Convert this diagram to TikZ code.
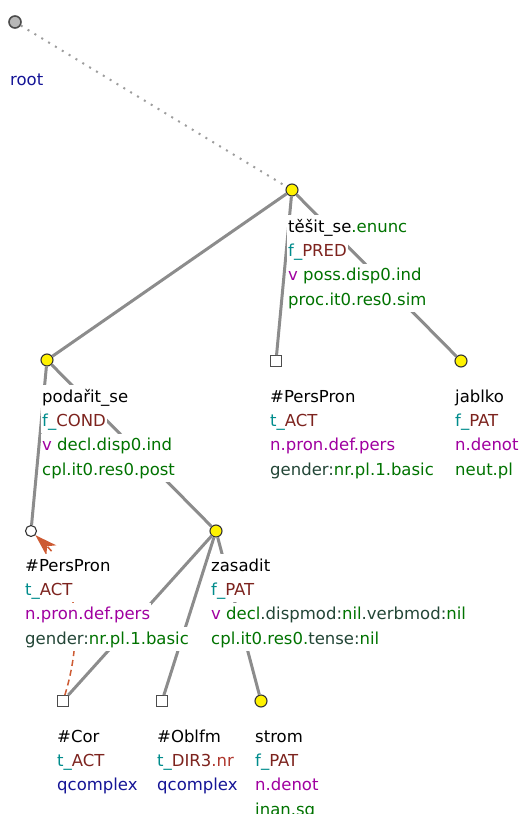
\documentclass[tikz,border=0pt]{standalone}
\usepackage{fontspec}
\setmainfont{DejaVu Sans}
\usetikzlibrary{arrows.meta,positioning}
\definecolor{treegray}{RGB}{140,140,140}
\definecolor{treeteal}{RGB}{0,140,140}
\definecolor{treebrown}{RGB}{125,35,30}
\definecolor{treered}{RGB}{175,55,45}
\definecolor{treegreen}{RGB}{0,115,0}
\definecolor{treedark}{RGB}{35,70,55}
\definecolor{treepurple}{RGB}{160,0,160}
\definecolor{treenavy}{RGB}{20,20,150}
\definecolor{treecoref}{RGB}{205,90,50}

\begin{document}
\begin{tikzpicture}[x=1pt,y=-1pt,>=Stealth,font=\fontsize{16.5}{24}\selectfont,
  edge/.style={line width=3pt,treegray},
  lbl/.style={fill=white,inner xsep=1pt,inner ysep=0pt,text height=17pt,text depth=7pt,anchor=north west},
  yel/.style={circle,draw=black!80,fill=yellow,line width=1.1pt,inner sep=0pt,minimum size=12pt},
  hole/.style={circle,draw=black!80,fill=white,line width=1.1pt,inner sep=0pt,minimum size=11pt},
  sq/.style={rectangle,draw=black!70,fill=white,line width=1.4pt,inner sep=0pt,minimum size=10.5pt}]
\useasboundingbox (0,0) rectangle (522,814);
% tree nodes
\node[circle,draw=black!70,fill=black!28,line width=1.6pt,inner sep=0pt,minimum size=12pt] (root) at (15,22) {};
\node[yel] (tesit) at (292,190) {};
\node[yel] (podarit) at (47,360) {};
\node[sq] (pp1) at (276,361) {};
\node[yel] (jablko) at (461,361) {};
\node[hole] (pp2) at (31,531) {};
\node[yel] (zasadit) at (216,531) {};
\node[sq] (cor) at (63,701) {};
\node[sq] (oblfm) at (162,701) {};
\node[yel] (strom) at (261,701) {};
% edges
\draw[line width=2pt,treegray!85,dash pattern=on 2pt off 6pt] (root)--(tesit);
\draw[edge] (tesit)--(podarit);\draw[edge] (tesit)--(pp1);\draw[edge] (tesit)--(jablko);
\draw[edge] (podarit)--(pp2);\draw[edge] (podarit)--(zasadit);
\draw[edge] (zasadit)--(cor);\draw[edge] (zasadit)--(oblfm);\draw[edge] (zasadit)--(strom);
% coreference
\draw[treecoref,line width=1.5pt,dash pattern=on 6pt off 4pt,arrows={-Stealth[length=22pt,width=14pt,inset=6pt]}] (cor) .. controls (85,630) and (74,572) .. (pp2);
% labels
\node[text=treenavy,inner sep=0pt,anchor=base west] (rootA) at (10,85) {root};

\node[lbl,anchor=base west] (tesitA) at (287,232) {těšit\_se\textcolor{treegreen}{.enunc}};
\node[lbl,below right=0pt of tesitA.south west] (tesitB) {\textcolor{treeteal}{f\_}\textcolor{treebrown}{PRED}};
\node[lbl,below right=0pt of tesitB.south west] (tesitC) {\textcolor{treepurple}{v} \textcolor{treegreen}{poss.disp0.ind}};
\node[lbl,below right=0pt of tesitC.south west] (tesitD) {\textcolor{treegreen}{proc.it0.res0.sim}};

\node[lbl,anchor=base west] (podaritA) at (41,402) {podařit\_se};
\node[lbl,below right=0pt of podaritA.south west] (podaritB) {\textcolor{treeteal}{f\_}\textcolor{treebrown}{COND}};
\node[lbl,below right=0pt of podaritB.south west] (podaritC) {\textcolor{treepurple}{v} \textcolor{treegreen}{decl.disp0.ind}};
\node[lbl,below right=0pt of podaritC.south west] (podaritD) {\textcolor{treegreen}{cpl.it0.res0.post}};

\node[lbl,anchor=base west] (ppA) at (269,402) {\#PersPron};
\node[lbl,below right=0pt of ppA.south west] (ppB) {\textcolor{treeteal}{t\_}\textcolor{treebrown}{ACT}};
\node[lbl,below right=0pt of ppB.south west] (ppC) {\textcolor{treepurple}{n.pron.def.pers}};
\node[lbl,below right=0pt of ppC.south west] (ppD) {\textcolor{treedark}{gender:}\textcolor{treegreen}{nr.pl.1.basic}};

\node[lbl,anchor=base west] (jablkoA) at (454,402) {jablko};
\node[lbl,below right=0pt of jablkoA.south west] (jablkoB) {\textcolor{treeteal}{f\_}\textcolor{treebrown}{PAT}};
\node[lbl,below right=0pt of jablkoB.south west] (jablkoC) {\textcolor{treepurple}{n.denot}};
\node[lbl,below right=0pt of jablkoC.south west] (jablkoD) {\textcolor{treegreen}{neut.pl}};

\node[lbl,anchor=base west] (ppbA) at (24,571) {\#PersPron};
\node[lbl,below right=0pt of ppbA.south west] (ppbB) {\textcolor{treeteal}{t\_}\textcolor{treebrown}{ACT}};
\node[lbl,below right=0pt of ppbB.south west] (ppbC) {\textcolor{treepurple}{n.pron.def.pers}};
\node[lbl,below right=0pt of ppbC.south west] (ppbD) {\textcolor{treedark}{gender:}\textcolor{treegreen}{nr.pl.1.basic}};

\node[lbl,anchor=base west] (zasaditA) at (210,571) {zasadit};
\node[lbl,below right=0pt of zasaditA.south west] (zasaditB) {\textcolor{treeteal}{f\_}\textcolor{treebrown}{PAT}};
\node[lbl,below right=0pt of zasaditB.south west] (zasaditC) {\textcolor{treepurple}{v} \textcolor{treegreen}{decl}\textcolor{treedark}{.dispmod:}\textcolor{treegreen}{nil}\textcolor{treedark}{.verbmod:}\textcolor{treegreen}{nil}};
\node[lbl,below right=0pt of zasaditC.south west] (zasaditD) {\textcolor{treegreen}{cpl.it0.res0.}\textcolor{treedark}{tense:}\textcolor{treegreen}{nil}};

\node[lbl,anchor=base west] (corA) at (56,742) {\#Cor};
\node[lbl,below right=0pt of corA.south west] (corB) {\textcolor{treeteal}{t\_}\textcolor{treebrown}{ACT}};
\node[lbl,below right=0pt of corB.south west] (corC) {\textcolor{treenavy}{qcomplex}};

\node[lbl,anchor=base west] (oblfmA) at (156,742) {\#Oblfm};
\node[lbl,below right=0pt of oblfmA.south west] (oblfmB) {\textcolor{treeteal}{t\_}\textcolor{treebrown}{DIR3}\textcolor{treered}{.nr}};
\node[lbl,below right=0pt of oblfmB.south west] (oblfmC) {\textcolor{treenavy}{qcomplex}};

\node[lbl,anchor=base west] (stromA) at (254,742) {strom};
\node[lbl,below right=0pt of stromA.south west] (stromB) {\textcolor{treeteal}{f\_}\textcolor{treebrown}{PAT}};
\node[lbl,below right=0pt of stromB.south west] (stromC) {\textcolor{treepurple}{n.denot}};
\node[lbl,below right=0pt of stromC.south west] (stromD) {\textcolor{treegreen}{inan.sg}};
\end{tikzpicture}
\end{document}
